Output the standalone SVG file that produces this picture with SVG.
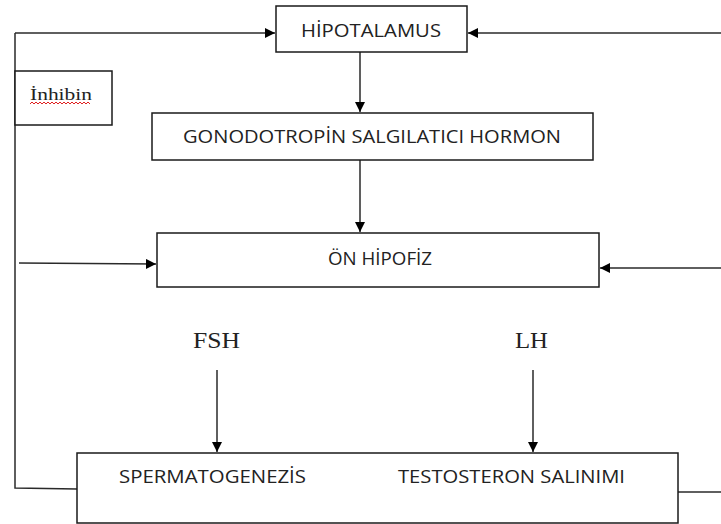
<svg xmlns="http://www.w3.org/2000/svg" width="721" height="524" viewBox="0 0 721 524">
<defs>
<marker id="ah" viewBox="0 0 10 10" refX="10" refY="5" markerWidth="10" markerHeight="10" markerUnits="userSpaceOnUse" orient="auto">
<path d="M0,0 L10,5 L0,10 Z" fill="#000"/>
</marker>
</defs>
<style>
.box{fill:#fff;stroke:#1a1a1a;stroke-width:1.5}
.t{font-family:"Open Sans","Liberation Sans",Arial,sans-serif;font-size:17.5px;fill:#222}
.s{font-family:"Liberation Serif","Times New Roman",serif;fill:#222}
.c{fill:none;stroke:#2a2a2a;stroke-width:1.5}
</style>
<rect width="721" height="524" fill="#fff"/>
<g id="connectors">
<path class="c" d="M15,33 L275,33" marker-end="url(#ah)"/>
<path class="c" d="M15,33 L15,488 L77,489"/>
<path class="c" d="M721,33 L468,33" marker-end="url(#ah)"/>
<path class="c" d="M360,52 L360,112" marker-end="url(#ah)"/>
<path class="c" d="M360,160 L360,232" marker-end="url(#ah)"/>
<path class="c" d="M19,263 L156,264" marker-end="url(#ah)"/>
<path class="c" d="M721,268 L600,268" marker-end="url(#ah)"/>
<path class="c" d="M217,370 L217,452" marker-end="url(#ah)"/>
<path class="c" d="M533,370 L533,452" marker-end="url(#ah)"/>
<path class="c" d="M678,492 L721,492"/>
</g>
<g id="hipotalamus">
<rect class="box" x="276" y="6" width="191" height="46"/>
<text class="t" x="371" y="37" text-anchor="middle" textLength="140" lengthAdjust="spacingAndGlyphs">HİPOTALAMUS</text>
</g>
<g id="inhibin">
<rect class="box" x="15" y="71" width="97" height="54"/>
<text class="s" x="30" y="100" font-size="17" textLength="62" lengthAdjust="spacingAndGlyphs">İnhibin</text>
<path d="M30,104 l2,-2 l2,2 l2,-2 l2,2 l2,-2 l2,2 l2,-2 l2,2 l2,-2 l2,2 l2,-2 l2,2 l2,-2 l2,2 l2,-2 l2,2 l2,-2 l2,2 l2,-2 l2,2 l2,-2 l2,2 l2,-2 l2,2 l2,-2 l2,2 l2,-2 l2,2 l2,-2 l2,2" fill="none" stroke="#e02020" stroke-width="1"/>
</g>
<g id="gnrh">
<rect class="box" x="152" y="113" width="441" height="47"/>
<text class="t" x="372" y="143" text-anchor="middle" textLength="378" lengthAdjust="spacingAndGlyphs">GONODOTROPİN SALGILATICI HORMON</text>
</g>
<g id="on-hipofiz">
<rect class="box" x="157" y="233" width="442" height="54"/>
<text class="t" x="380" y="265" text-anchor="middle" textLength="104" lengthAdjust="spacingAndGlyphs">ÖN HİPOFİZ</text>
</g>
<g id="fsh">
<text class="s" x="193" y="348" font-size="24" textLength="47" lengthAdjust="spacingAndGlyphs">FSH</text>
</g>
<g id="lh">
<text class="s" x="515" y="348" font-size="24" textLength="33" lengthAdjust="spacingAndGlyphs">LH</text>
</g>
<g id="testis">
<rect class="box" x="77" y="453" width="601" height="70"/>
<text class="t" x="119" y="483" textLength="187" lengthAdjust="spacingAndGlyphs">SPERMATOGENEZİS</text>
<text class="t" x="398" y="483" textLength="227" lengthAdjust="spacingAndGlyphs">TESTOSTERON SALINIMI</text>
</g>
</svg>
